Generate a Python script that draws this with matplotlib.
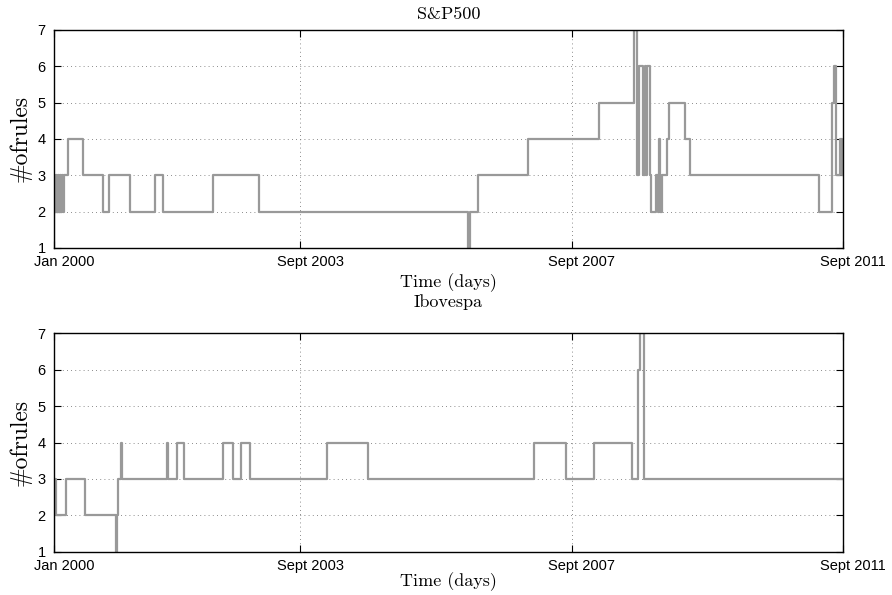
import matplotlib.pyplot as plt
from matplotlib import transforms

plt.rcParams['font.family'] = ['Liberation Sans', 'DejaVu Sans']
serif = ['cmr10', 'DejaVu Serif']

# trading day where the number of rules changes, and the new value
sp_days = [0, 1, 4, 7, 11, 15, 19, 22, 26, 30, 34, 37, 51, 107, 184, 204, 283,
           377, 407, 594, 765, 1543, 1550, 1581, 1765, 2031, 2161, 2173, 2181,
           2196, 2203, 2207, 2211, 2221, 2225, 2244, 2251, 2254, 2258, 2264,
           2283, 2293, 2352, 2370, 2851, 2901, 2906, 2914, 2929, 2936]
sp_rules = [1, 3, 2, 3, 2, 3, 2, 3, 2, 3, 2, 3, 4, 3, 2, 3, 2,
            3, 2, 3, 2, 1, 2, 3, 4, 5, 7, 3, 6,
            3, 6, 3, 6, 3, 2, 3, 2, 4, 2, 3,
            4, 5, 4, 3, 2, 5, 6, 3, 4, 3]

ibov_days = [0, 1, 7, 45, 116, 231, 236, 238, 250, 255, 420, 426, 457, 486,
             631, 668, 696, 730, 1016, 1169, 1789, 1908, 2012, 2153, 2177,
             2185, 2197]
ibov_rules = [1, 3, 2, 3, 2, 1, 2, 3, 4, 3, 4, 3, 4, 3,
              4, 3, 4, 3, 4, 3, 4, 3, 4, 3, 6,
              7, 3]

n_days = 2940
tick_pos = [0, 917, 1930, 2940]
tick_labels = ['Jan 2000', 'Sept 2003', 'Sept 2007', 'Sept 2011']

fig = plt.figure(figsize=(8.92, 5.95), dpi=100)
ax1 = fig.add_axes([0.0605, 0.5832, 0.8845, 0.3664])
ax2 = fig.add_axes([0.0605, 0.0728, 0.8845, 0.3670])

# the date labels sit a little right of their ticks in the original
shift = transforms.ScaledTranslation(0.10, 0, fig.dpi_scale_trans)

panels = [(ax1, sp_days, sp_rules, 'S&P500', 8, 3),
          (ax2, ibov_days, ibov_rules, 'Ibovespa', 19, 0)]
for ax, days, rules, title, tpad, xpad in panels:
    ax.step(days + [n_days], rules + [rules[-1]], where='post',
            color='#999999', lw=1.6)
    ax.set_xlim(0, n_days)
    ax.set_ylim(1, 7)
    ax.set_yticks(range(1, 8))
    ax.set_xticks(tick_pos)
    ax.set_xticklabels(tick_labels)
    ax.tick_params(direction='in', top=True, right=True, length=5,
                   labelsize=10.5)
    ax.tick_params(axis='x', pad=5)
    ax.tick_params(axis='y', pad=6)
    for lab in ax.get_xticklabels():
        lab.set_transform(lab.get_transform() + shift)
    ax.grid(True, linestyle=(0, (1, 4)), color='#666666', lw=0.6)
    for s in ax.spines.values():
        s.set_linewidth(1.0)
    ax.set_title(title, fontsize=13, pad=tpad, family=serif)
    ax.set_xlabel('Time (days)', fontsize=13, labelpad=xpad, family=serif)
    ax.set_ylabel('#ofrules', fontsize=17, labelpad=4, family=serif)

fig.savefig('out.png', dpi=100)
